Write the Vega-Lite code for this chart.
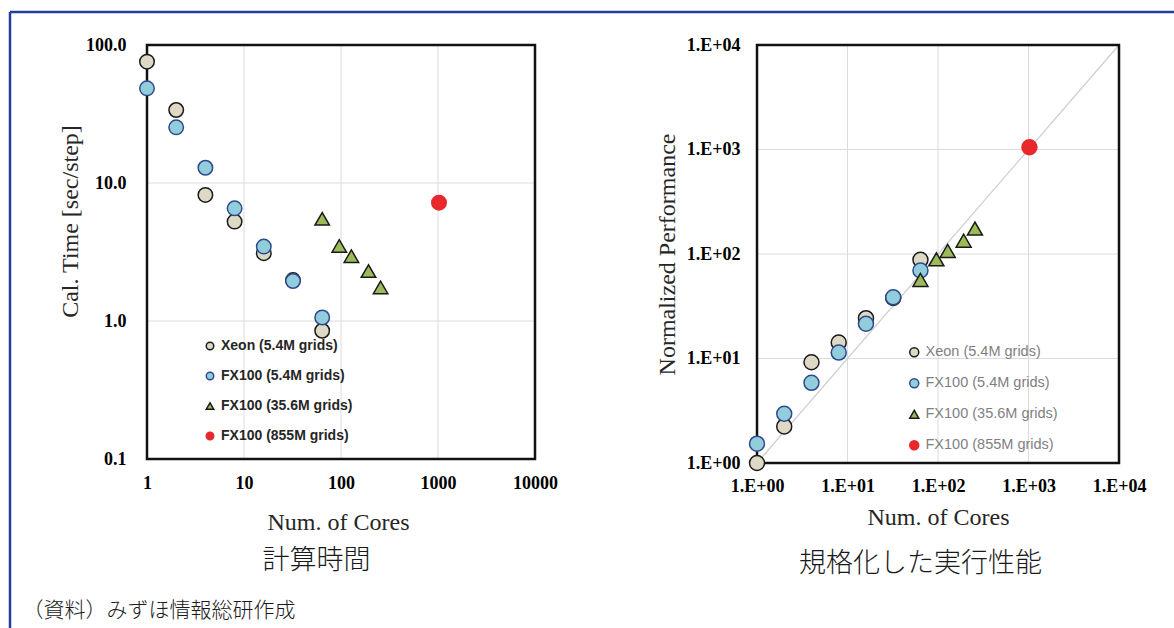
{
  "$schema": "https://vega.github.io/schema/vega-lite/v6.json",
  "width": 1164,
  "height": 616,
  "autosize": {"type": "none"},
  "padding": {"left": 10, "top": 12, "right": 0, "bottom": 0},
  "background": "white",
  "config": {
    "view": {"stroke": "#203f9a", "strokeWidth": 2.5, "strokeDash": [1164, 1780, 616, 0]},
    "axis": {"labelFlush": false, "labelOverlap": false, "ticks": false, "domain": false, "grid": false}
  },
  "datasets": {
    "pts": [
      {"series": "Xeon (5.4M grids)", "cores": 1, "time": 75.7, "perf": 1.0},
      {"series": "Xeon (5.4M grids)", "cores": 2, "time": 33.8, "perf": 2.24},
      {"series": "Xeon (5.4M grids)", "cores": 4, "time": 8.2, "perf": 9.2},
      {"series": "Xeon (5.4M grids)", "cores": 8, "time": 5.25, "perf": 14.2},
      {"series": "Xeon (5.4M grids)", "cores": 16, "time": 3.1, "perf": 24.3},
      {"series": "Xeon (5.4M grids)", "cores": 32, "time": 1.98, "perf": 38},
      {"series": "Xeon (5.4M grids)", "cores": 64, "time": 0.85, "perf": 88},
      {"series": "FX100 (5.4M grids)", "cores": 1, "time": 48.5, "perf": 1.53},
      {"series": "FX100 (5.4M grids)", "cores": 2, "time": 25.3, "perf": 2.96},
      {"series": "FX100 (5.4M grids)", "cores": 4, "time": 12.9, "perf": 5.85},
      {"series": "FX100 (5.4M grids)", "cores": 8, "time": 6.55, "perf": 11.4},
      {"series": "FX100 (5.4M grids)", "cores": 16, "time": 3.46, "perf": 21.5},
      {"series": "FX100 (5.4M grids)", "cores": 32, "time": 1.95, "perf": 38.5},
      {"series": "FX100 (5.4M grids)", "cores": 64, "time": 1.06, "perf": 69.5},
      {"series": "FX100 (35.6M grids)", "cores": 64, "time": 5.5, "perf": 56.5},
      {"series": "FX100 (35.6M grids)", "cores": 96, "time": 3.5, "perf": 89},
      {"series": "FX100 (35.6M grids)", "cores": 128, "time": 2.95, "perf": 107},
      {"series": "FX100 (35.6M grids)", "cores": 192, "time": 2.3, "perf": 134},
      {"series": "FX100 (35.6M grids)", "cores": 256, "time": 1.75, "perf": 175},
      {"series": "FX100 (855M grids)", "cores": 1024, "time": 7.2, "perf": 1050}
    ],
    "vgrid": [{"g": 10}, {"g": 100}, {"g": 1000}],
    "hgridL": [{"g": 1}, {"g": 10}],
    "hgridR": [{"g": 10}, {"g": 100}, {"g": 1000}],
    "diag": [{"c": 1, "p": 1}, {"c": 10000, "p": 10000}],
    "frameL": [{"x0": 1, "x1": 10000, "y0": 0.1, "y1": 100}],
    "frameR": [{"x0": 1, "x1": 10000, "y0": 1, "y1": 10000}]
  },
  "layer": [
    {
      "resolve": {"axis": {"x": "independent", "y": "independent"}},
      "layer": [
        {
          "data": {"name": "vgrid"},
          "mark": {"type": "rule", "color": "#dcdcdc", "strokeWidth": 1},
          "encoding": {
            "x": {"field": "g", "type": "quantitative",
              "scale": {"type": "log", "domain": [1, 10000], "range": [137, 525], "nice": false},
              "axis": {"orient": "bottom", "offset": -169, "labels": false, "title": "計算時間",
                "titleFont": "Noto Sans CJK JP", "titleFontSize": 27, "titleFontWeight": 300, "titleColor": "#1a1a1a",
                "titleX": 306, "titleY": 101, "titleAlign": "center", "titleBaseline": "middle", "titleAngle": 0}},
            "y": {"datum": 0.1, "type": "quantitative",
              "scale": {"type": "log", "domain": [0.1, 100], "range": [447, 33], "nice": false}, "axis": null},
            "y2": {"datum": 100}
          }
        },
        {
          "data": {"name": "hgridL"},
          "mark": {"type": "rule", "color": "#dcdcdc", "strokeWidth": 1},
          "encoding": {
            "y": {"field": "g", "type": "quantitative",
              "scale": {"type": "log", "domain": [0.1, 100], "range": [447, 33], "nice": false},
              "axis": {"orient": "left", "offset": 0, "labels": false, "title": "（資料）みずほ情報総研作成",
                "titleFont": "Noto Sans CJK JP", "titleFontSize": 21, "titleFontWeight": 300, "titleColor": "#1a1a1a",
                "titleX": 12, "titleY": 598, "titleAlign": "left", "titleBaseline": "middle", "titleAngle": 0}},
            "x": {"datum": 1, "type": "quantitative",
              "scale": {"type": "log", "domain": [1, 10000], "range": [137, 525], "nice": false}, "axis": null},
            "x2": {"datum": 10000}
          }
        },
        {
          "data": {"name": "frameL"},
          "mark": {"type": "rect", "fill": "transparent", "stroke": "#111111", "strokeWidth": 2.5},
          "encoding": {
            "x": {"field": "x0", "type": "quantitative",
              "scale": {"type": "log", "domain": [1, 10000], "range": [137, 525], "nice": false}, "axis": null},
            "x2": {"field": "x1"},
            "y": {"field": "y0", "type": "quantitative",
              "scale": {"type": "log", "domain": [0.1, 100], "range": [447, 33], "nice": false}, "axis": null},
            "y2": {"field": "y1"}
          }
        },
        {
          "data": {"name": "pts"},
          "mark": {"type": "point", "filled": true, "size": 210, "strokeWidth": 1.5, "opacity": 1},
          "encoding": {
            "x": {"field": "cores", "type": "quantitative",
              "scale": {"type": "log", "domain": [1, 10000], "range": [137, 525], "nice": false},
              "axis": {"orient": "bottom", "offset": -169, "values": [1, 10, 100, 1000, 10000], "format": "d",
                "labelFont": "Liberation Serif", "labelFontWeight": "bold", "labelFontSize": 18, "labelColor": "#000000", "labelPadding": 15,
                "title": "Num. of Cores", "titleFont": "Liberation Serif", "titleFontWeight": "normal", "titleFontSize": 24, "titleColor": "#262626",
                "titleX": 328, "titleY": 63, "titleAlign": "center", "titleBaseline": "middle", "titleAngle": 0}},
            "y": {"field": "time", "type": "quantitative",
              "scale": {"type": "log", "domain": [0.1, 100], "range": [447, 33], "nice": false},
              "axis": {"orient": "left", "offset": -137, "values": [0.1, 1, 10, 100], "format": ".1f",
                "labelFont": "Liberation Serif", "labelFontWeight": "bold", "labelFontSize": 18, "labelColor": "#000000", "labelPadding": 21,
                "title": "Cal. Time [sec/step]", "titleFont": "Liberation Serif", "titleFontWeight": "normal", "titleFontSize": 24, "titleColor": "#262626",
                "titleX": -77, "titleY": 209, "titleAlign": "center", "titleBaseline": "middle", "titleAngle": -90}},
            "fill": {"field": "series", "type": "nominal",
              "scale": {"domain": ["Xeon (5.4M grids)", "FX100 (5.4M grids)", "FX100 (35.6M grids)", "FX100 (855M grids)"], "range": ["#ddd9c4", "#92cddc", "#9bbb59", "#e8282b"]},
              "legend": {"orient": "none", "legendX": 193, "legendY": 327, "title": null, "padding": 0, "labelFont": "Liberation Sans", "labelFontWeight": "bold", "labelFontSize": 14, "labelColor": "#262626", "symbolSize": 56, "symbolStrokeWidth": 1.5, "rowPadding": 16, "labelOffset": 4}},
            "shape": {"field": "series", "type": "nominal",
              "scale": {"domain": ["Xeon (5.4M grids)", "FX100 (5.4M grids)", "FX100 (35.6M grids)", "FX100 (855M grids)"], "range": ["circle", "circle", "triangle-up", "circle"]},
              "legend": {"orient": "none", "legendX": 193, "legendY": 327, "title": null, "padding": 0, "labelFont": "Liberation Sans", "labelFontWeight": "bold", "labelFontSize": 14, "labelColor": "#262626", "symbolSize": 56, "symbolStrokeWidth": 1.5, "rowPadding": 16, "labelOffset": 4}},
            "stroke": {"field": "series", "type": "nominal",
              "scale": {"domain": ["Xeon (5.4M grids)", "FX100 (5.4M grids)", "FX100 (35.6M grids)", "FX100 (855M grids)"], "range": ["#1a1a1a", "#2f4a8c", "#1a1a1a", "#e8282b"]},
              "legend": {"orient": "none", "legendX": 193, "legendY": 327, "title": null, "padding": 0, "labelFont": "Liberation Sans", "labelFontWeight": "bold", "labelFontSize": 14, "labelColor": "#262626", "symbolSize": 56, "symbolStrokeWidth": 1.5, "rowPadding": 16, "labelOffset": 4}}
          }
        }
      ]
    },
    {
      "resolve": {"axis": {"x": "independent", "y": "independent"}},
      "layer": [
        {
          "data": {"name": "vgrid"},
          "mark": {"type": "rule", "color": "#dcdcdc", "strokeWidth": 1},
          "encoding": {
            "x": {"field": "g", "type": "quantitative",
              "scale": {"type": "log", "domain": [1, 10000], "range": [747, 1109], "nice": false},
              "axis": {"orient": "bottom", "offset": -165, "labels": false, "title": "規格化した実行性能",
                "titleFont": "Noto Sans CJK JP", "titleFontSize": 27, "titleFontWeight": 300, "titleColor": "#1a1a1a",
                "titleX": 910, "titleY": 100, "titleAlign": "center", "titleBaseline": "middle", "titleAngle": 0}},
            "y": {"datum": 1, "type": "quantitative",
              "scale": {"type": "log", "domain": [1, 10000], "range": [451, 33], "nice": false}, "axis": null},
            "y2": {"datum": 10000}
          }
        },
        {
          "data": {"name": "hgridR"},
          "mark": {"type": "rule", "color": "#dcdcdc", "strokeWidth": 1},
          "encoding": {
            "y": {"field": "g", "type": "quantitative",
              "scale": {"type": "log", "domain": [1, 10000], "range": [451, 33], "nice": false}, "axis": null},
            "x": {"datum": 1, "type": "quantitative",
              "scale": {"type": "log", "domain": [1, 10000], "range": [747, 1109], "nice": false}, "axis": null},
            "x2": {"datum": 10000}
          }
        },
        {
          "data": {"name": "diag"},
          "mark": {"type": "line", "color": "#cfcfcf", "strokeWidth": 1.3},
          "encoding": {
            "x": {"field": "c", "type": "quantitative",
              "scale": {"type": "log", "domain": [1, 10000], "range": [747, 1109], "nice": false}, "axis": null},
            "y": {"field": "p", "type": "quantitative",
              "scale": {"type": "log", "domain": [1, 10000], "range": [451, 33], "nice": false}, "axis": null}
          }
        },
        {
          "data": {"name": "frameR"},
          "mark": {"type": "rect", "fill": "transparent", "stroke": "#111111", "strokeWidth": 2.5},
          "encoding": {
            "x": {"field": "x0", "type": "quantitative",
              "scale": {"type": "log", "domain": [1, 10000], "range": [747, 1109], "nice": false}, "axis": null},
            "x2": {"field": "x1"},
            "y": {"field": "y0", "type": "quantitative",
              "scale": {"type": "log", "domain": [1, 10000], "range": [451, 33], "nice": false}, "axis": null},
            "y2": {"field": "y1"}
          }
        },
        {
          "data": {"name": "pts"},
          "mark": {"type": "point", "filled": true, "size": 225, "strokeWidth": 1.5, "opacity": 1},
          "encoding": {
            "x": {"field": "cores", "type": "quantitative",
              "scale": {"type": "log", "domain": [1, 10000], "range": [747, 1109], "nice": false},
              "axis": {"orient": "bottom", "offset": -165, "values": [1, 10, 100, 1000, 10000], "labelExpr": "'1.E+0' + round(log(datum.value) / LN10)",
                "labelFont": "Liberation Serif", "labelFontWeight": "bold", "labelFontSize": 18, "labelColor": "#000000", "labelPadding": 14,
                "title": "Num. of Cores", "titleFont": "Liberation Serif", "titleFontWeight": "normal", "titleFontSize": 24, "titleColor": "#262626",
                "titleX": 928, "titleY": 54, "titleAlign": "center", "titleBaseline": "middle", "titleAngle": 0}},
            "y": {"field": "perf", "type": "quantitative",
              "scale": {"type": "log", "domain": [1, 10000], "range": [451, 33], "nice": false},
              "axis": {"orient": "left", "offset": -747, "values": [1, 10, 100, 1000, 10000], "labelExpr": "'1.E+0' + round(log(datum.value) / LN10)",
                "labelFont": "Liberation Serif", "labelFontWeight": "bold", "labelFontSize": 18, "labelColor": "#000000", "labelPadding": 17,
                "title": "Normalized Performance", "titleFont": "Liberation Serif", "titleFontWeight": "normal", "titleFontSize": 24, "titleColor": "#262626",
                "titleX": -90, "titleY": 242, "titleAlign": "center", "titleBaseline": "middle", "titleAngle": -90}},
            "fill": {"field": "series", "type": "nominal",
              "scale": {"domain": ["Xeon (5.4M grids)", "FX100 (5.4M grids)", "FX100 (35.6M grids)", "FX100 (855M grids)"], "range": ["#ddd9c4", "#92cddc", "#9bbb59", "#e8282b"]},
              "legend": {"orient": "none", "legendX": 897, "legendY": 333, "title": null, "padding": 0, "labelFont": "Liberation Sans", "labelFontWeight": "normal", "labelFontSize": 14.5, "labelColor": "#7f7f7f", "symbolSize": 81, "symbolStrokeWidth": 1.5, "rowPadding": 15, "labelOffset": 4}},
            "shape": {"field": "series", "type": "nominal",
              "scale": {"domain": ["Xeon (5.4M grids)", "FX100 (5.4M grids)", "FX100 (35.6M grids)", "FX100 (855M grids)"], "range": ["circle", "circle", "triangle-up", "circle"]},
              "legend": {"orient": "none", "legendX": 897, "legendY": 333, "title": null, "padding": 0, "labelFont": "Liberation Sans", "labelFontWeight": "normal", "labelFontSize": 14.5, "labelColor": "#7f7f7f", "symbolSize": 81, "symbolStrokeWidth": 1.5, "rowPadding": 15, "labelOffset": 4}},
            "stroke": {"field": "series", "type": "nominal",
              "scale": {"domain": ["Xeon (5.4M grids)", "FX100 (5.4M grids)", "FX100 (35.6M grids)", "FX100 (855M grids)"], "range": ["#1a1a1a", "#2f4a8c", "#1a1a1a", "#e8282b"]},
              "legend": {"orient": "none", "legendX": 897, "legendY": 333, "title": null, "padding": 0, "labelFont": "Liberation Sans", "labelFontWeight": "normal", "labelFontSize": 14.5, "labelColor": "#7f7f7f", "symbolSize": 81, "symbolStrokeWidth": 1.5, "rowPadding": 15, "labelOffset": 4}}
          }
        }
      ]
    }
  ],
  "resolve": {"scale": {"x": "independent", "y": "independent", "fill": "independent", "shape": "independent", "stroke": "independent"}}
}
